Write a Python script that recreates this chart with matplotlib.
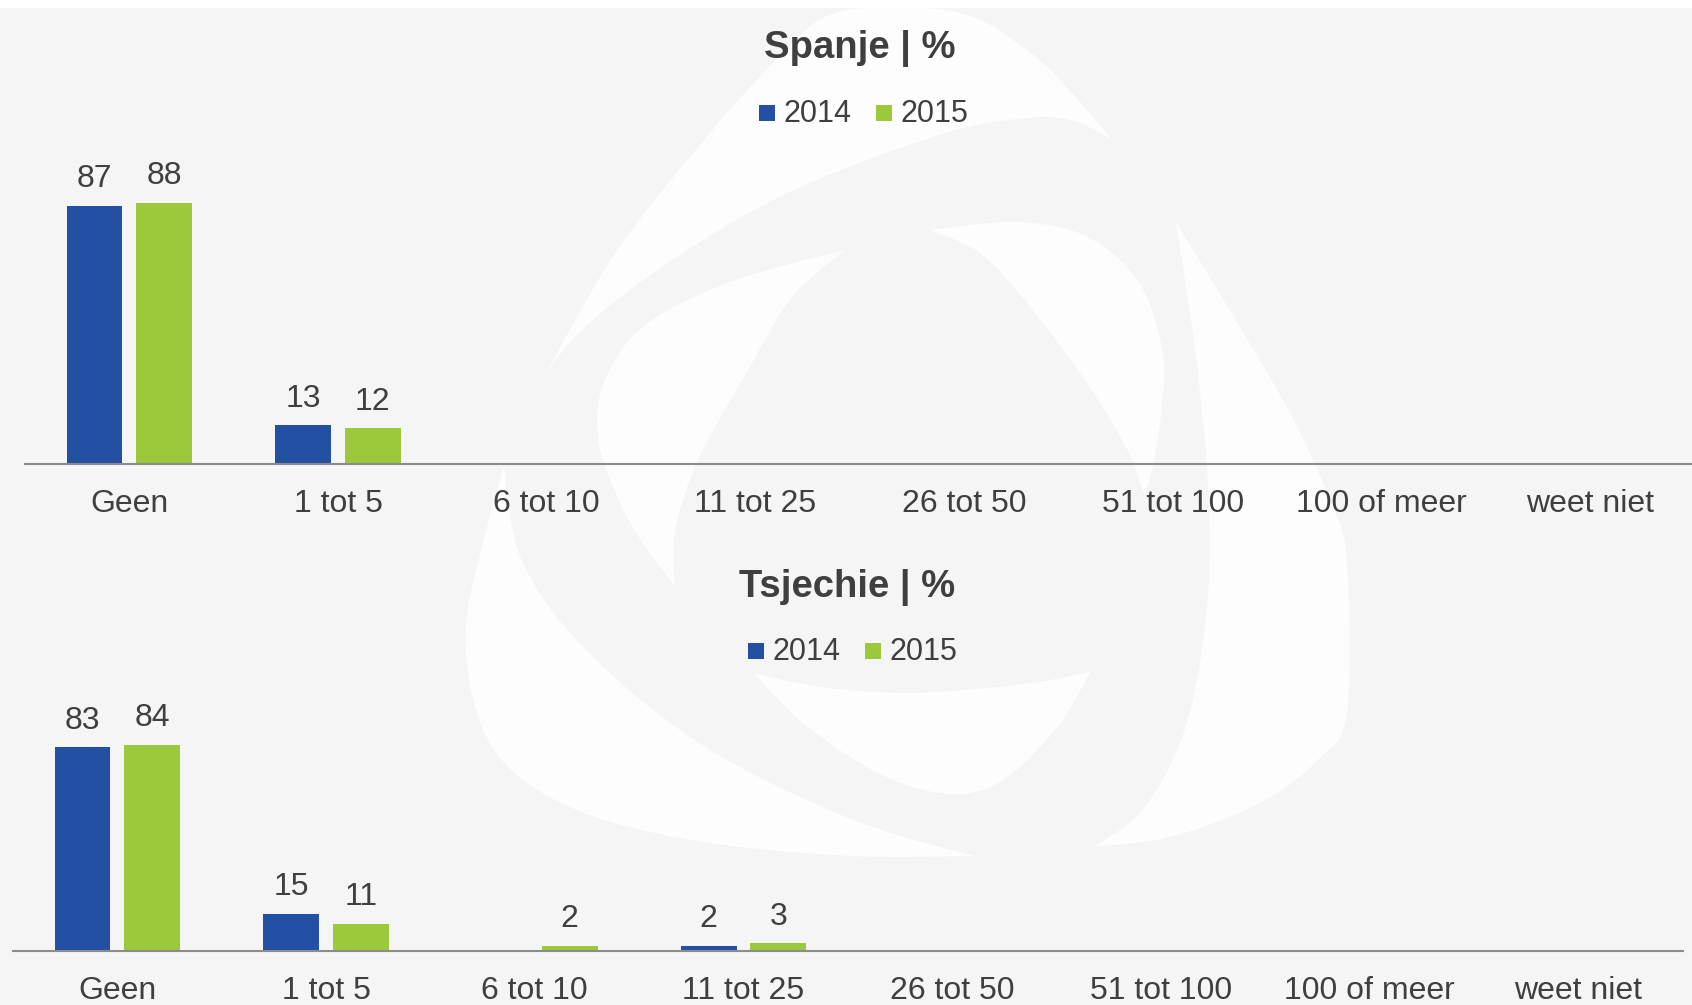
import numpy as np
import matplotlib
matplotlib.use("Agg")
import matplotlib.pyplot as plt
from matplotlib.patches import Rectangle, Polygon

plt.rcParams['font.family'] = ['Liberation Sans', 'DejaVu Sans']

# ---- data ----
categories = ['Geen', '1 tot 5', '6 tot 10', '11 tot 25', '26 tot 50',
              '51 tot 100', '100 of meer', 'weet niet']
years = ['2014', '2015']
spanje_2014 = [87, 13, None, None, None, None, None, None]
spanje_2015 = [88, 12, None, None, None, None, None, None]
tsjechie_2014 = [83, 15, None, 2, None, None, None, None]
tsjechie_2015 = [84, 11, 2, 3, None, None, None, None]
titles = ['Spanje | %', 'Tsjechie | %']

# ---- style ----
BLUE = '#2450a3'
GREEN = '#9bc93b'
TEXT = '#3f3f3f'
BG = '#f5f5f5'
W, H = 1692, 1005

fig = plt.figure(figsize=(W / 100, H / 100), dpi=100)
fig.patch.set_facecolor(BG)


def px(x, y):
    return x / W, 1 - y / H


# ---- decorative background watermark (pixel outline of the logo) ----
def catmull(pts, n=12):
    p = np.asarray(pts, dtype=float)
    ext = np.vstack([p[0], p, p[-1]])
    out = []
    for i in range(1, len(ext) - 2):
        p0, p1, p2, p3 = ext[i - 1], ext[i], ext[i + 1], ext[i + 2]
        for t in np.linspace(0, 1, n, endpoint=False):
            t2, t3 = t * t, t * t * t
            out.append(0.5 * ((2 * p1) + (-p0 + p2) * t +
                              (2 * p0 - 5 * p1 + 4 * p2 - p3) * t2 +
                              (-p0 + 3 * p1 - 3 * p2 + p3) * t3))
    out.append(p[-1])
    return np.array(out)


def swoosh(edge_a, edge_b):
    a = catmull(edge_a)
    b = catmull(edge_b)
    pts = np.vstack([a, b])
    frac = np.column_stack([pts[:, 0] / W, 1 - pts[:, 1] / H])
    fig.add_artist(Polygon(frac, closed=True, transform=fig.transFigure,
                           facecolor='#fdfdfd', edgecolor='none', zorder=-2))


# outer top arm
swoosh([(546, 373), (616, 252), (704, 140), (780, 56), (839, 12), (956, 12),
        (1027, 50), (1074, 95), (1112, 140)],
       [(1112, 140), (1074, 121), (1027, 118), (939, 135), (792, 191),
        (675, 258), (587, 325), (546, 373)])
# inner top-left arm
swoosh([(845, 250), (733, 281), (645, 325), (604, 382), (598, 438),
        (616, 494), (640, 539), (675, 586)],
       [(675, 586), (675, 533), (698, 460), (751, 365), (792, 297), (845, 250)])
# inner right arm
swoosh([(930, 230), (1015, 222), (1086, 236), (1138, 281), (1162, 348),
        (1162, 404), (1153, 466), (1144, 494)],
       [(1144, 494), (1127, 449), (1086, 382), (1027, 303), (980, 253), (930, 230)])
# outer right arm
swoosh([(1176, 222), (1232, 314), (1291, 415), (1332, 505), (1347, 561),
        (1347, 713), (1320, 758), (1262, 802), (1174, 836), (1094, 847)],
       [(1094, 847), (1144, 808), (1185, 729), (1206, 617), (1209, 505),
        (1197, 365), (1176, 222)])
# inner bottom arm
swoosh([(1091, 671), (1056, 729), (1003, 780), (950, 794), (880, 774),
        (804, 724), (754, 673)],
       [(754, 673), (821, 687), (909, 693), (997, 687), (1056, 679), (1091, 671)])
# outer bottom-left arm
swoosh([(504, 466), (481, 550), (466, 628), (475, 707), (510, 769),
        (587, 814), (704, 842), (851, 856), (974, 856)],
       [(974, 856), (851, 819), (704, 746), (587, 651), (522, 561), (504, 466)])

# white strip at top
fig.add_artist(Rectangle((0, 1 - 8 / H), 1, 8 / H, transform=fig.transFigure,
                         facecolor='white', edgecolor='none', zorder=-1))


def draw_panel(rect, s14, s15, title, title_xy, legend_xy):
    ax = fig.add_axes(rect)
    ax.set_facecolor('none')
    x = np.arange(len(categories))
    off, bw = 0.167, 0.268
    for vals, sign, col in [(s14, -1, BLUE), (s15, 1, GREEN)]:
        h = np.array([np.nan if v is None else v for v in vals], dtype=float)
        ax.bar(x + sign * off, np.nan_to_num(h), width=bw, color=col,
               edgecolor='none', zorder=3)
        for xi, v in zip(x, vals):
            if v is not None:
                ax.annotate(f'{v}', (xi + sign * off, v), xytext=(0, 13.5),
                            textcoords='offset points', ha='center',
                            va='baseline', fontsize=23, color=TEXT)
    ax.set_xlim(-0.5, len(categories) - 0.5)
    ax.set_ylim(0, 100)
    ax.set_xticks(x)
    ax.set_xticklabels(categories, fontsize=23, color=TEXT)
    ax.tick_params(axis='x', length=0, pad=18)
    ax.set_yticks([])
    for s in ['top', 'right', 'left']:
        ax.spines[s].set_visible(False)
    ax.spines['bottom'].set_color('#8c8c8c')
    ax.spines['bottom'].set_linewidth(1.5)
    ax.spines['bottom'].set_zorder(4)

    tx, ty = px(*title_xy)
    fig.text(tx, ty, title, ha='center', va='baseline', fontsize=27.5,
             fontweight='bold', color=TEXT)
    # legend
    lx, ly = legend_xy
    for yr, col, dx in [(years[0], BLUE, 0), (years[1], GREEN, 117)]:
        x0, y0 = px(lx + dx, ly)
        fig.add_artist(Rectangle((x0, y0), 16 / W, 16 / H, transform=fig.transFigure,
                                 facecolor=col, edgecolor='none'))
        tx, ty = px(lx + dx + 24, ly + 1)
        fig.text(tx, ty, yr, ha='left', va='baseline', fontsize=22, color=TEXT)
    return ax


cw = 208.7
draw_panel([25 / W, 1 - 464 / H, 8 * cw / W, 296.6 / H],
           spanje_2014, spanje_2015, titles[0], (860, 58), (759, 121))
draw_panel([13 / W, 1 - 950.6 / H, 8 * cw / W, 245 / H],
           tsjechie_2014, tsjechie_2015, titles[1], (847, 597), (748, 659))

fig.savefig('out.png', dpi=100, facecolor=BG)
